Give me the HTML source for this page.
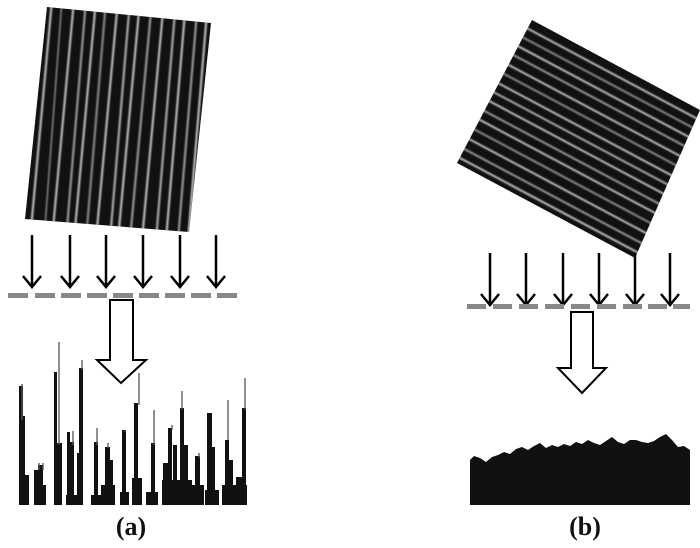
<!DOCTYPE html>
<html><head><meta charset="utf-8"><style>
html,body{margin:0;padding:0;background:#fff;}
svg{display:block;}
</style></head><body>
<svg width="700" height="548" viewBox="0 0 700 548" xmlns="http://www.w3.org/2000/svg">
<defs>
<filter id="bl" x="-10%" y="-10%" width="120%" height="120%"><feGaussianBlur stdDeviation="0.9"/></filter>
<clipPath id="cl"><polygon points="47,7 211,23 189,232 25,219"/></clipPath>
<clipPath id="cr"><polygon points="532,20 700,110 635,258 457,163"/></clipPath>
</defs>

<polygon points="47,7 211,23 189,232 25,219" fill="#111"/>
<g clip-path="url(#cl)" filter="url(#bl)" stroke="#bbb" stroke-width="2.2" fill="none">
<path d="M52,0 L30,240"/><path d="M62,0 L44,240" stroke-width="1.5" stroke="#888"/>
<path d="M74,0 L52,240"/><path d="M86,0 L66,240" stroke="#999"/>
<path d="M96,0 L74,240"/><path d="M106,0 L86,240" stroke="#888"/>
<path d="M118,0 L96,240"/><path d="M130,0 L110,240" stroke="#aaa"/>
<path d="M140,0 L118,240"/><path d="M152,0 L130,240" stroke="#999"/>
<path d="M164,0 L142,240"/><path d="M176,0 L156,240" stroke="#aaa"/>
<path d="M186,0 L166,240"/><path d="M198,0 L178,240" stroke="#999"/>
<path d="M208,0 L188,240"/>
</g>

<polygon points="532,20 700,110 635,258 457,163" fill="#111"/>
<g clip-path="url(#cr)" filter="url(#bl)" fill="none" stroke="#bbb" stroke-width="2">
<g transform="translate(580,138) rotate(28)">
<path d="M-110,-72 H110"/><path d="M-110,-62 H110" stroke="#888"/>
<path d="M-110,-52 H110"/><path d="M-110,-42 H110" stroke="#999"/>
<path d="M-110,-31 H110"/><path d="M-110,-21 H110" stroke="#888"/>
<path d="M-110,-10 H110"/><path d="M-110,0 H110" stroke="#aaa"/>
<path d="M-110,10 H110"/><path d="M-110,21 H110" stroke="#999"/>
<path d="M-110,31 H110"/><path d="M-110,42 H110" stroke="#888"/>
<path d="M-110,53 H110"/><path d="M-110,64 H110" stroke="#999"/>
<path d="M-110,74 H110"/>
</g>
</g>

<g stroke="#000" stroke-width="2.5" fill="none">
<g id="la"><path d="M32,235 V286"/><path d="M23,276 L32,287 L41,276"/></g>
<use href="#la" x="38"/><use href="#la" x="74"/><use href="#la" x="111"/><use href="#la" x="148"/><use href="#la" x="184"/>
</g>
<g fill="#888">
<rect x="8" y="293" width="20" height="5"/><rect x="35" y="293" width="20" height="5"/><rect x="61" y="293" width="20" height="5"/>
<rect x="87" y="293" width="20" height="5"/><rect x="113" y="293" width="20" height="5"/><rect x="139" y="293" width="20" height="5"/>
<rect x="165" y="293" width="20" height="5"/><rect x="191" y="293" width="20" height="5"/><rect x="217" y="293" width="20" height="5"/>
</g>
<polygon points="110,300 133,300 133,360 146,360 121,383 97,360 110,360" fill="#fff" stroke="#000" stroke-width="2"/>

<g fill="#111">
<rect x="19" y="386" width="4" height="119"/><rect x="22" y="416" width="3" height="89"/><rect x="25" y="475" width="4" height="30"/>
<rect x="34" y="470" width="4" height="35"/><rect x="38" y="465" width="5" height="40"/><rect x="43" y="485" width="3" height="20"/>
<rect x="54" y="372" width="3" height="133"/><rect x="57" y="443" width="5" height="62"/>
<rect x="67" y="432" width="3" height="73"/><rect x="70" y="442" width="4" height="63"/><rect x="66" y="495" width="12" height="10"/>
<rect x="79" y="368" width="4" height="137"/><rect x="77" y="453" width="3" height="52"/>
<rect x="94" y="442" width="4" height="63"/><rect x="91" y="495" width="14" height="10"/>
<rect x="105" y="447" width="5" height="58"/><rect x="110" y="460" width="3" height="45"/><rect x="101" y="485" width="14" height="20"/>
<rect x="122" y="430" width="4" height="75"/><rect x="120" y="492" width="9" height="13"/>
<rect x="134" y="403" width="4" height="102"/><rect x="132" y="478" width="10" height="27"/>
<rect x="151" y="443" width="4" height="62"/><rect x="146" y="492" width="12" height="13"/>
<rect x="163" y="463" width="5" height="42"/><rect x="168" y="428" width="4" height="77"/><rect x="173" y="445" width="4" height="60"/><rect x="162" y="480" width="30" height="25"/>
<rect x="180" y="408" width="4" height="97"/><rect x="184" y="445" width="4" height="60"/>
<rect x="195" y="456" width="5" height="49"/><rect x="192" y="485" width="12" height="20"/>
<rect x="207" y="413" width="5" height="92"/><rect x="212" y="447" width="3" height="58"/><rect x="205" y="490" width="14" height="15"/>
<rect x="225" y="440" width="4" height="65"/><rect x="229" y="460" width="4" height="45"/><rect x="222" y="485" width="25" height="20"/>
<rect x="236" y="477" width="6" height="28"/><rect x="242" y="408" width="4" height="97"/>
</g>
<g stroke="#555" stroke-width="1.3">
<path d="M22,384 V420"/><path d="M39,463 V470"/><path d="M43,463 V470"/><path d="M59,342 V445"/><path d="M73,431 V445"/>
<path d="M82,360 V370"/><path d="M97,428 V445"/><path d="M108,443 V448"/><path d="M125,430 V432"/><path d="M139,373 V405"/>
<path d="M154,410 V445"/><path d="M182,391 V410"/><path d="M199,453 V458"/><path d="M228,400 V440"/><path d="M245,378 V410"/><path d="M172,425 V430"/>
</g>

<g stroke="#000" stroke-width="2.5" fill="none">
<g id="ra"><path d="M490,253 V304"/><path d="M481,294 L490,305 L499,294"/></g>
<use href="#ra" x="36"/><use href="#ra" x="73"/><use href="#ra" x="109"/><use href="#ra" x="145"/><use href="#ra" x="180"/>
</g>
<g fill="#888">
<rect x="467" y="304" width="19" height="5"/><rect x="493" y="304" width="19" height="5"/><rect x="519" y="304" width="19" height="5"/>
<rect x="545" y="304" width="19" height="5"/><rect x="571" y="304" width="19" height="5"/><rect x="597" y="304" width="19" height="5"/>
<rect x="623" y="304" width="19" height="5"/><rect x="648" y="304" width="19" height="5"/><rect x="673" y="304" width="17" height="5"/>
</g>
<polygon points="571,312 593,312 593,368 606,368 582,393 558,368 571,368" fill="#fff" stroke="#000" stroke-width="2"/>

<polygon fill="#111" points="470,505 470,460 474,456 480,458 486,462 492,457 498,455 504,452 510,454 516,449 522,447 528,450 534,446 540,443 546,448 552,445 558,447 564,444 570,446 576,442 582,444 588,440 594,443 600,445 606,441 612,437 618,442 624,444 630,440 636,440 642,442 648,443 654,441 660,437 666,434 672,440 678,447 684,446 690,450 690,505"/>

<text x="131" y="535" font-family="Liberation Serif, serif" font-size="26" font-weight="bold" text-anchor="middle" fill="#111">(a)</text>
<text x="585" y="535" font-family="Liberation Serif, serif" font-size="26" font-weight="bold" text-anchor="middle" fill="#111">(b)</text>
</svg>
</body></html>
